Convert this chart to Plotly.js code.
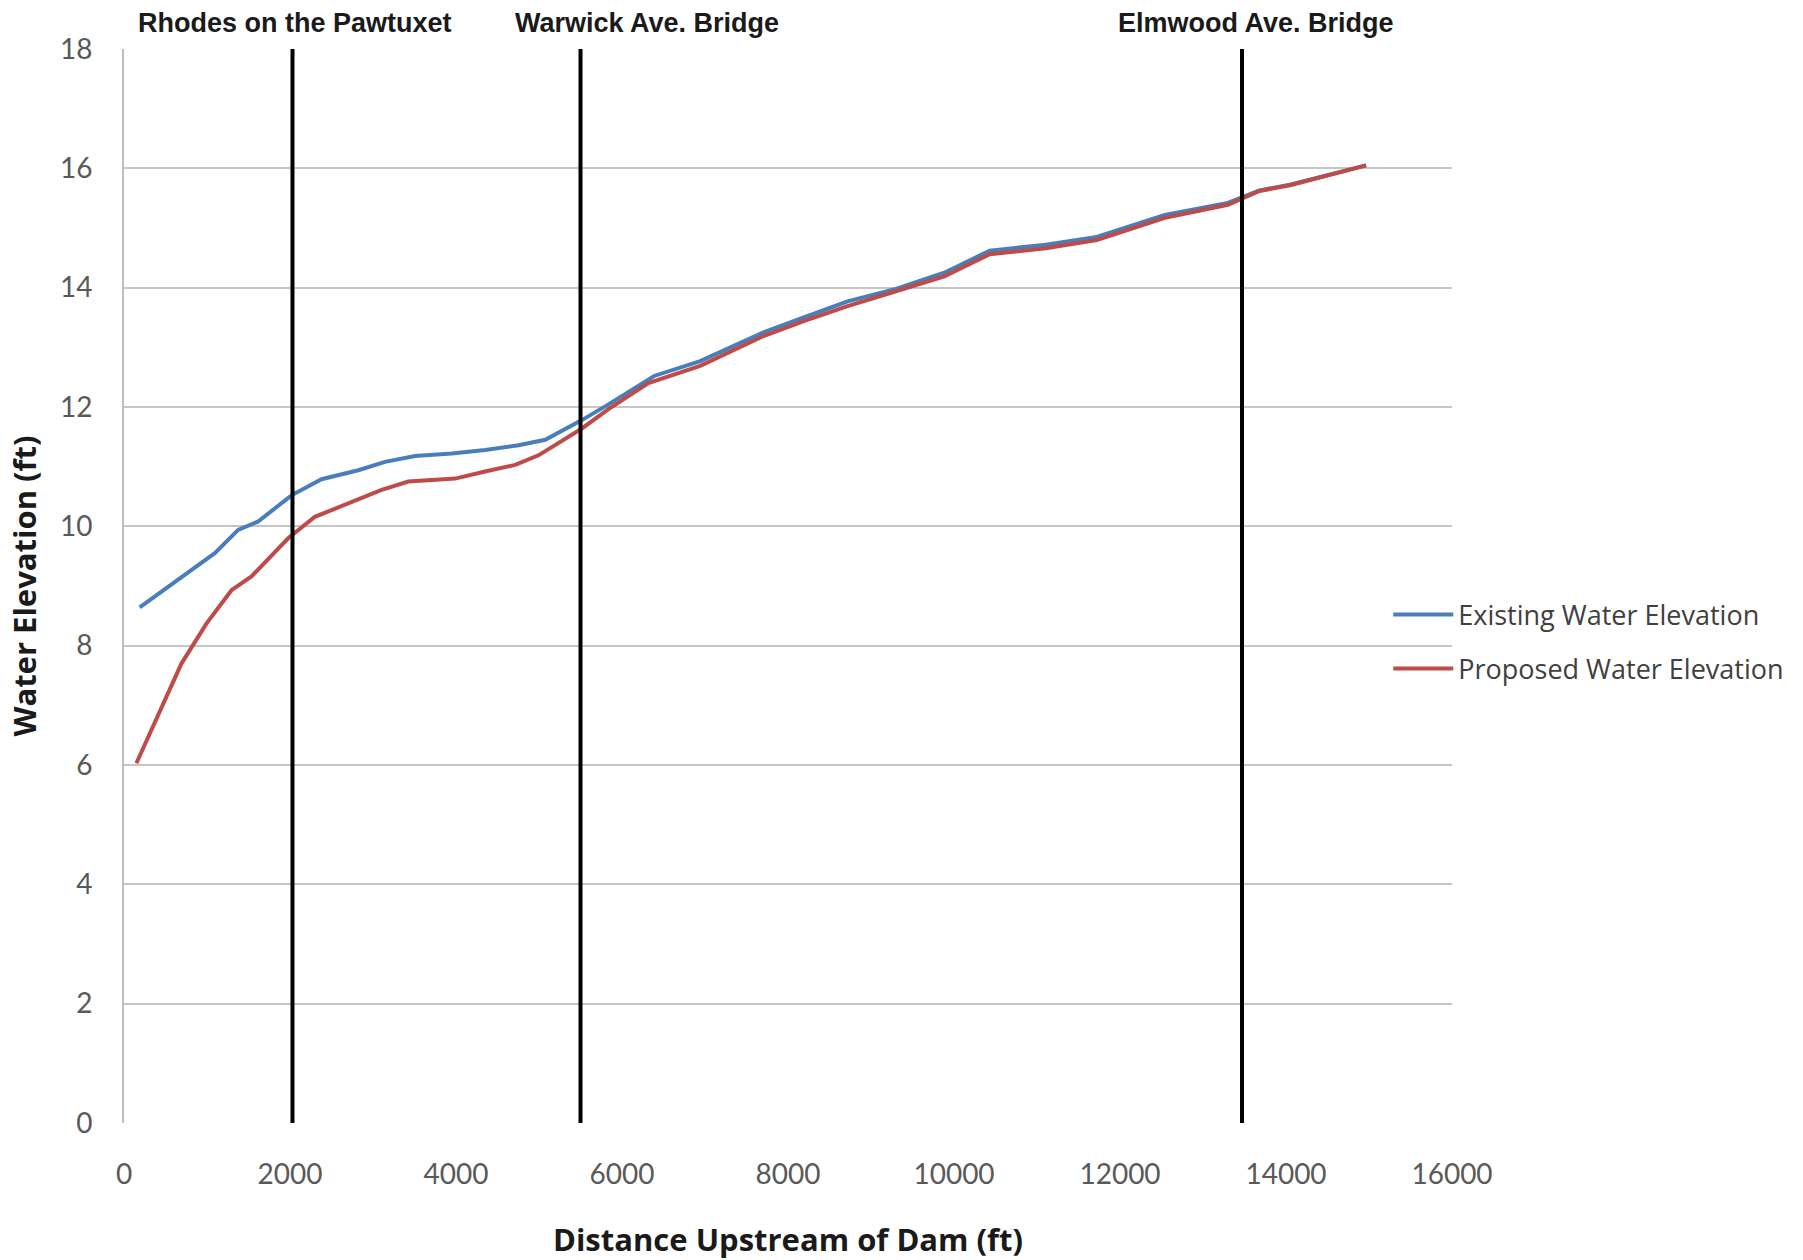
<!DOCTYPE html>
<html>
<head>
<meta charset="utf-8">
<script src="https://cdn.plot.ly/plotly-3.0.1.min.js"></script>
<style>html,body{margin:0;padding:0;background:#fff;}#chart{width:1803px;height:1260px;}</style>
</head>
<body>
<div id="chart"></div>
<script>
// Existing water elevation (distance upstream of dam, ft -> elevation, ft)
const existingX = [189, 700, 1094, 1375, 1616, 2018, 2380, 2823, 3145, 3506, 3949, 4351, 4753, 5075, 5517, 5832, 6387, 6942, 7705, 8190, 8718, 9300, 9883, 10430, 11104, 11720, 12540, 13300, 13680, 14060, 14965];
const existingY = [8.64, 9.16, 9.55, 9.94, 10.08, 10.52, 10.79, 10.94, 11.08, 11.18, 11.22, 11.28, 11.36, 11.45, 11.78, 12.04, 12.52, 12.77, 13.25, 13.50, 13.77, 13.98, 14.25, 14.62, 14.72, 14.85, 15.22, 15.42, 15.63, 15.73, 16.05];

// Proposed water elevation
const proposedX = [149, 692, 993, 1295, 1536, 1978, 2300, 2662, 3104, 3426, 3989, 4351, 4713, 4994, 5517, 5832, 6318, 6942, 7705, 8190, 8718, 9300, 9883, 10430, 11104, 11720, 12540, 13300, 13680, 14060, 14965];
const proposedY = [6.03, 7.70, 8.37, 8.93, 9.16, 9.80, 10.16, 10.36, 10.61, 10.75, 10.80, 10.92, 11.03, 11.19, 11.64, 11.96, 12.40, 12.69, 13.19, 13.44, 13.69, 13.94, 14.19, 14.56, 14.66, 14.80, 15.17, 15.39, 15.62, 15.72, 16.05];

const seriesNames = ["Existing Water Elevation", "Proposed Water Elevation"];
const seriesColors = ["#4a7ebb", "#be4b48"];

// Landmarks (vertical reference lines)
const landmarkNames = ["Rhodes on the Pawtuxet", "Warwick Ave. Bridge", "Elmwood Ave. Bridge"];
const landmarkX = [2030, 5500, 13470];
const landmarkLabelX = [2063, 6297, 13643];

const xTicks = [0, 2000, 4000, 6000, 8000, 10000, 12000, 14000, 16000];
const yTicks = [0, 2, 4, 6, 8, 10, 12, 14, 16, 18];

const traces = [
  {x: existingX, y: existingY, name: seriesNames[0], type: "scatter", mode: "lines",
   line: {color: seriesColors[0], width: 4}, legendgroup: "a"},
  {x: proposedX, y: proposedY, name: seriesNames[1], type: "scatter", mode: "lines",
   line: {color: seriesColors[1], width: 4}, legendgroup: "b"}
];

const shapes = landmarkX.map(v => ({
  type: "line", xref: "x", yref: "y", x0: v, x1: v, y0: 0, y1: 18,
  line: {color: "#000000", width: 4}, layer: "above"
}));

const annotations = landmarkNames.map((t, i) => ({
  text: "<b>" + t + "</b>", xref: "x", yref: "paper", x: landmarkLabelX[i], y: 1.024,
  xanchor: "center", yanchor: "middle", showarrow: false,
  font: {family: "Liberation Sans, Arial, sans-serif", size: 27, color: "#1a1a1a"}
}));

const layout = {
  width: 1803, height: 1260,
  margin: {l: 124, r: 351, t: 49, b: 137, pad: 0},
  paper_bgcolor: "#ffffff", plot_bgcolor: "#ffffff",
  showlegend: true,
  legend: {x: 0.952, xanchor: "left", y: 0.448, yanchor: "middle",
    font: {family: "Open Sans, Calibri, sans-serif", size: 27, color: "#404040"},
    traceorder: "grouped", tracegroupgap: 16, itemwidth: 60, bgcolor: "rgba(0,0,0,0)"},
  xaxis: {range: [0, 16000], tickvals: xTicks, ticktext: xTicks.map(String),
    showgrid: false, zeroline: false, showline: false, ticks: "",
    ticklabelstandoff: 32,
    tickfont: {family: "Lato, Calibri, sans-serif", size: 28, color: "#595959"},
    title: {text: "<b>Distance Upstream of Dam (ft)</b>", standoff: 40,
      font: {family: "Open Sans, sans-serif", size: 31, color: "#1a1a1a"}},
    fixedrange: true},
  yaxis: {range: [0, 18], tickvals: yTicks, ticktext: yTicks.map(String),
    showgrid: true, gridcolor: "#c6c6c6", gridwidth: 2,
    zeroline: false, showline: true, linecolor: "#bfbfbf", linewidth: 2, ticks: "",
    ticklabelstandoff: 24,
    tickfont: {family: "Lato, Calibri, sans-serif", size: 28, color: "#595959"},
    title: {text: "<b>Water Elevation (ft)</b>", standoff: 14,
      font: {family: "Open Sans, sans-serif", size: 31, color: "#1a1a1a"}},
    fixedrange: true},
  shapes: shapes,
  annotations: annotations
};

Plotly.newPlot("chart", traces, layout, {displayModeBar: false, staticPlot: true});
</script>
</body>
</html>
